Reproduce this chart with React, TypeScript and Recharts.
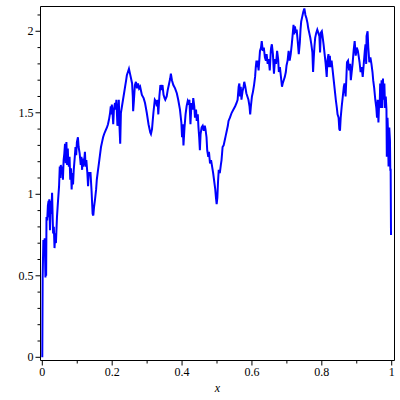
import React from "react";
import { LineChart, Line, XAxis, YAxis, ReferenceLine } from "recharts";

const XS = [
  0, 0.001, 0.003, 0.005, 0.007, 0.009, 0.01, 0.011, 0.012, 0.014, 0.016, 0.018, 0.019, 0.02, 0.022, 0.024,
  0.026, 0.028, 0.03, 0.031, 0.033, 0.035, 0.037, 0.039, 0.042, 0.045, 0.048, 0.05, 0.052, 0.053, 0.055,
  0.057, 0.059, 0.061, 0.063, 0.065, 0.067, 0.069, 0.071, 0.073, 0.074, 0.076, 0.078, 0.08, 0.082, 0.084,
  0.086, 0.088, 0.09, 0.093, 0.095, 0.097, 0.099, 0.102, 0.104, 0.107, 0.11, 0.112, 0.114, 0.115, 0.117,
  0.12, 0.122, 0.124, 0.126, 0.129, 0.131, 0.133, 0.135, 0.138, 0.141, 0.144, 0.146, 0.148, 0.151, 0.154,
  0.156, 0.159, 0.162, 0.165, 0.168, 0.171, 0.174, 0.177, 0.181, 0.185, 0.188, 0.191, 0.194, 0.196, 0.198,
  0.199, 0.201, 0.203, 0.205, 0.208, 0.21, 0.212, 0.215, 0.217, 0.219, 0.221, 0.223, 0.225, 0.228, 0.231,
  0.234, 0.237, 0.24, 0.242, 0.245, 0.248, 0.251, 0.254, 0.257, 0.259, 0.26, 0.262, 0.265, 0.268, 0.271,
  0.274, 0.277, 0.28, 0.285, 0.29, 0.294, 0.299, 0.304, 0.309, 0.311, 0.314, 0.318, 0.322, 0.325, 0.328,
  0.33, 0.332, 0.335, 0.338, 0.341, 0.344, 0.347, 0.35, 0.352, 0.356, 0.359, 0.363, 0.366, 0.368, 0.371,
  0.375, 0.38, 0.385, 0.389, 0.394, 0.398, 0.4, 0.402, 0.404, 0.407, 0.41, 0.413, 0.416, 0.419, 0.421,
  0.424, 0.427, 0.43, 0.432, 0.435, 0.437, 0.44, 0.442, 0.445, 0.447, 0.449, 0.451, 0.453, 0.456, 0.459,
  0.462, 0.465, 0.467, 0.47, 0.472, 0.475, 0.477, 0.48, 0.483, 0.486, 0.489, 0.492, 0.495, 0.497, 0.499,
  0.501, 0.503, 0.505, 0.508, 0.511, 0.513, 0.516, 0.519, 0.522, 0.525, 0.528, 0.531, 0.533, 0.537, 0.542,
  0.547, 0.552, 0.556, 0.559, 0.562, 0.564, 0.566, 0.568, 0.57, 0.573, 0.576, 0.578, 0.581, 0.584, 0.587,
  0.59, 0.593, 0.595, 0.597, 0.6, 0.603, 0.606, 0.609, 0.611, 0.613, 0.614, 0.616, 0.619, 0.621, 0.623,
  0.626, 0.628, 0.631, 0.634, 0.637, 0.64, 0.642, 0.645, 0.648, 0.651, 0.654, 0.655, 0.657, 0.66, 0.663,
  0.666, 0.669, 0.672, 0.675, 0.677, 0.68, 0.683, 0.686, 0.688, 0.691, 0.694, 0.697, 0.699, 0.702, 0.705,
  0.708, 0.711, 0.714, 0.717, 0.719, 0.721, 0.723, 0.726, 0.728, 0.731, 0.734, 0.737, 0.739, 0.741, 0.744,
  0.747, 0.75, 0.753, 0.756, 0.759, 0.761, 0.764, 0.767, 0.77, 0.773, 0.775, 0.777, 0.779, 0.781, 0.784,
  0.787, 0.79, 0.793, 0.795, 0.797, 0.8, 0.802, 0.805, 0.808, 0.811, 0.814, 0.816, 0.819, 0.821, 0.823,
  0.825, 0.828, 0.831, 0.834, 0.837, 0.84, 0.843, 0.845, 0.848, 0.85, 0.852, 0.854, 0.857, 0.86, 0.863,
  0.865, 0.868, 0.87, 0.872, 0.875, 0.878, 0.881, 0.883, 0.885, 0.888, 0.891, 0.894, 0.897, 0.9, 0.903,
  0.906, 0.908, 0.911, 0.914, 0.917, 0.92, 0.923, 0.925, 0.927, 0.928, 0.931, 0.933, 0.936, 0.939, 0.942,
  0.945, 0.947, 0.95, 0.953, 0.956, 0.958, 0.96, 0.962, 0.964, 0.966, 0.967, 0.969, 0.971, 0.973, 0.975,
  0.977, 0.979, 0.981, 0.983, 0.985, 0.986, 0.988, 0.989, 0.991, 0.993, 0.995, 0.996, 0.997, 0.998,
];

const YS = [
  0, 0.49, 0.72, 0.7, 0.73, 0.49, 0.72, 0.5, 0.86, 0.84, 0.93, 0.96, 0.86, 0.97, 0.78, 0.96,
  0.88, 1.01, 0.83, 0.76, 0.8, 0.67, 0.76, 0.7, 0.86, 0.96, 1.05, 1.17, 1.1, 1.18, 1.13,
  1.17, 1.09, 1.21, 1.25, 1.31, 1.19, 1.32, 1.18, 1.28, 1.21, 1.17, 1.23, 1.09, 1.16, 1.03,
  1.13, 1.06, 1.15, 1.23, 1.29, 1.24, 1.32, 1.35, 1.29, 1.25, 1.18, 1.23, 1.15, 1.22, 1.17,
  1.21, 1.26, 1.17, 1.21, 1.13, 1.05, 1.13, 1.13, 1.13, 1.02, 0.88, 0.87, 0.92, 0.97, 1.03,
  1.09, 1.14, 1.19, 1.24, 1.29, 1.32, 1.35, 1.37, 1.39, 1.41, 1.43, 1.46, 1.5, 1.54, 1.49,
  1.55, 1.5, 1.43, 1.52, 1.56, 1.52, 1.58, 1.42, 1.5, 1.58, 1.41, 1.31, 1.5, 1.54, 1.58,
  1.62, 1.66, 1.7, 1.73, 1.75, 1.77, 1.74, 1.71, 1.68, 1.6, 1.51, 1.57, 1.67, 1.69, 1.65,
  1.68, 1.65, 1.66, 1.61, 1.59, 1.56, 1.5, 1.43, 1.38, 1.37, 1.4, 1.5, 1.58, 1.57, 1.54,
  1.58, 1.49, 1.6, 1.67, 1.64, 1.67, 1.61, 1.59, 1.58, 1.6, 1.64, 1.68, 1.71, 1.74, 1.7,
  1.67, 1.65, 1.62, 1.58, 1.52, 1.44, 1.35, 1.43, 1.3, 1.41, 1.49, 1.54, 1.57, 1.55, 1.58,
  1.43, 1.56, 1.52, 1.59, 1.54, 1.47, 1.52, 1.45, 1.49, 1.41, 1.35, 1.27, 1.37, 1.41, 1.42,
  1.39, 1.42, 1.4, 1.35, 1.27, 1.23, 1.26, 1.19, 1.21, 1.17, 1.13, 1.08, 1.03, 0.98, 0.94,
  0.98, 1.08, 1.15, 1.13, 1.18, 1.21, 1.29, 1.3, 1.33, 1.36, 1.39, 1.42, 1.45, 1.47, 1.5,
  1.52, 1.54, 1.56, 1.58, 1.66, 1.68, 1.6, 1.66, 1.58, 1.63, 1.66, 1.69, 1.66, 1.62, 1.6,
  1.58, 1.54, 1.49, 1.54, 1.6, 1.63, 1.67, 1.72, 1.78, 1.82, 1.78, 1.82, 1.76, 1.82, 1.88,
  1.9, 1.94, 1.88, 1.9, 1.84, 1.82, 1.86, 1.8, 1.83, 1.76, 1.88, 1.9, 1.92, 1.86, 1.74,
  1.83, 1.8, 1.88, 1.83, 1.75, 1.78, 1.72, 1.66, 1.68, 1.7, 1.72, 1.75, 1.79, 1.82, 1.88,
  1.82, 1.86, 1.92, 1.99, 2.04, 1.98, 2.03, 1.99, 2.01, 1.94, 1.86, 1.93, 2.01, 2.06, 2.09,
  2.12, 2.14, 2.1, 2.08, 2.05, 2.02, 1.99, 1.96, 1.92, 1.87, 1.75, 1.84, 1.91, 1.96, 1.99,
  2.01, 1.99, 1.97, 1.87, 1.99, 2.0, 1.97, 1.92, 1.86, 1.8, 1.72, 1.82, 1.86, 1.78, 1.85,
  1.78, 1.82, 1.76, 1.7, 1.64, 1.58, 1.53, 1.49, 1.47, 1.4, 1.39, 1.47, 1.54, 1.6, 1.66,
  1.68, 1.6, 1.7, 1.81, 1.82, 1.76, 1.8, 1.7, 1.74, 1.8, 1.88, 1.94, 1.85, 1.9, 1.88,
  1.84, 1.81, 1.75, 1.78, 1.72, 1.8, 1.88, 1.92, 1.8, 1.97, 2.0, 1.9, 1.81, 1.84, 1.8,
  1.75, 1.7, 1.65, 1.58, 1.53, 1.47, 1.58, 1.44, 1.56, 1.58, 1.68, 1.53, 1.7, 1.53, 1.71,
  1.58, 1.68, 1.53, 1.6, 1.52, 1.23, 1.47, 1.41, 1.17, 1.41, 1.33, 1.15, 1.15, 0.75,
];

const X_TICKS = [0, 0.1, 0.2, 0.3, 0.4, 0.5, 0.6, 0.7, 0.8, 0.9, 1];
const Y_TICKS = [0, 0.1, 0.2, 0.3, 0.4, 0.5, 0.6, 0.7, 0.8, 0.9, 1, 1.1, 1.2, 1.3, 1.4, 1.5, 1.6, 1.7, 1.8, 1.9, 2, 2.1];
const X_LABEL = "x";

const X_MIN = -0.00515;
const X_MAX = 1.008;
const Y_MIN = -0.0196;
const Y_MAX = 2.152;

const data = XS.map((x, i) => ({ x, y: YS[i] }));

const FONT = "'Liberation Serif', 'DejaVu Serif', serif";

const fmt = (v: number) => String(Math.round(v * 10) / 10);

const YTick = (props: any) => {
  const { x, y, payload } = props;
  const v = payload.value;
  const major = Math.abs(v * 2 - Math.round(v * 2)) < 1e-6;
  return (
    <g>
      <line x1={x - (major ? 5 : 3)} x2={x} y1={y} y2={y} stroke="#000" strokeWidth={1} />
      {major && (
        <text x={x - 7} y={y + 4} textAnchor="end" fontSize={12} fontFamily={FONT} fill="#000">
          {fmt(v)}
        </text>
      )}
    </g>
  );
};

const XTick = (props: any) => {
  const { x, y, payload } = props;
  const v = payload.value;
  const major = Math.abs(v * 5 - Math.round(v * 5)) < 1e-6;
  return (
    <g>
      <line x1={x} x2={x} y1={y} y2={y + (major ? 5 : 3)} stroke="#000" strokeWidth={1} />
      {major && (
        <text x={x} y={y + 15} textAnchor="middle" fontSize={12} fontFamily={FONT} fill="#000">
          {fmt(v)}
        </text>
      )}
    </g>
  );
};

export default function App() {
  return (
    <div style={{ position: "absolute", left: 0, top: 0, width: 400, height: 400, background: "#fff" }}>
      <LineChart
        width={400}
        height={400}
        data={data}
        margin={{ top: 6.5, right: 5.5, bottom: 0, left: 0 }}
      >
        <XAxis
          dataKey="x"
          type="number"
          domain={[X_MIN, X_MAX]}
          allowDataOverflow
          ticks={X_TICKS}
          interval={0}
          tickSize={0}
          tickMargin={0}
          tick={<XTick />}
          axisLine={{ stroke: "#000" }}
          height={39.5}
          label={{
            content: (p: any) => {
              const vb = p.viewBox || {};
              return (
                <text
                  x={vb.x + vb.width / 2}
                  y={vb.y + 31}
                  textAnchor="middle"
                  fontSize={12}
                  fontStyle="italic"
                  fontFamily={FONT}
                  fill="#000"
                >
                  {X_LABEL}
                </text>
              );
            },
          }}
        />
        <YAxis
          type="number"
          domain={[Y_MIN, Y_MAX]}
          allowDataOverflow
          ticks={Y_TICKS}
          interval={0}
          tickSize={0}
          tickMargin={0}
          tick={<YTick />}
          axisLine={{ stroke: "#000" }}
          width={40.5}
        />
        <ReferenceLine y={Y_MAX} stroke="#000" strokeWidth={1} />
        <ReferenceLine x={X_MAX} stroke="#000" strokeWidth={1} />
        <Line
          type="linear"
          dataKey="y"
          stroke="#0000ff"
          strokeWidth={2}
          strokeLinejoin="miter"
          dot={false}
          isAnimationActive={false}
        />
      </LineChart>
    </div>
  );
}
